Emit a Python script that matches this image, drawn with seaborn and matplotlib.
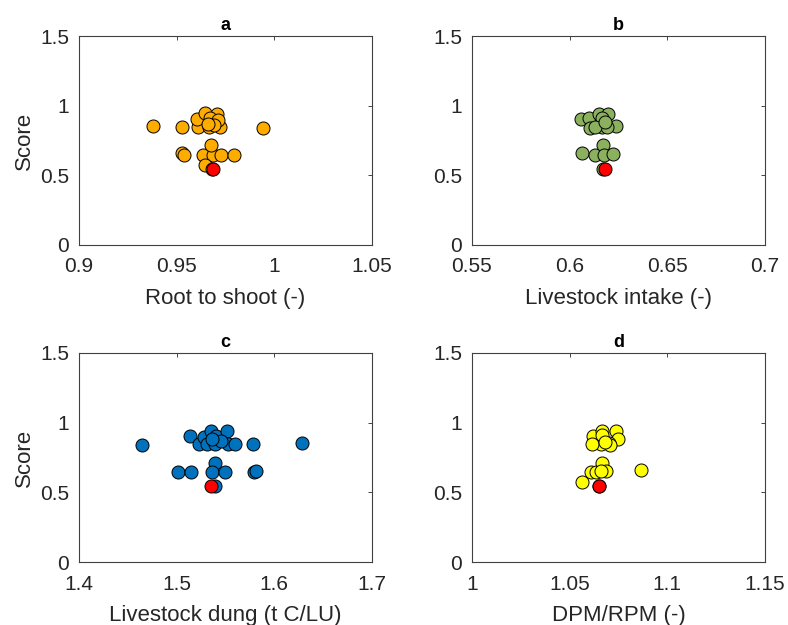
import matplotlib
matplotlib.use("Agg")
import matplotlib.pyplot as plt
import seaborn as sns
import pandas as pd
from matplotlib.ticker import FuncFormatter

sns.set_theme(style="white")
plt.rcParams['font.family'] = ['Liberation Sans', 'DejaVu Sans']

# ---- data ----
root_x = [0.9379, 0.9527, 0.9608, 0.9667, 0.9722, 0.9944, 0.9602, 0.9645, 0.9705, 0.9671,
          0.9713, 0.9690, 0.9660, 0.9526, 0.9540, 0.9637, 0.9688, 0.9727, 0.9795, 0.9674,
          0.9645, 0.9680]
root_y = [0.854, 0.849, 0.849, 0.849, 0.845, 0.840, 0.902, 0.945, 0.940, 0.910,
          0.900, 0.860, 0.870, 0.658, 0.648, 0.646, 0.646, 0.646, 0.646, 0.716,
          0.577, 0.545]
root_ref = (0.9688, 0.543)

intake_x = [0.6060, 0.6100, 0.6106, 0.6152, 0.6195, 0.6166, 0.6238, 0.6163, 0.6192, 0.6132,
            0.6180, 0.6063, 0.6132, 0.6170, 0.6178, 0.6220, 0.6170]
intake_y = [0.902, 0.909, 0.838, 0.940, 0.940, 0.909, 0.854, 0.845, 0.850, 0.850,
            0.880, 0.658, 0.646, 0.716, 0.646, 0.650, 0.545]
intake_ref = (0.6183, 0.543)

dung_x = [1.4642, 1.5137, 1.5017, 1.5143, 1.5229, 1.5280, 1.5348, 1.5400, 1.5512, 1.5307,
          1.5390, 1.5529, 1.5597, 1.5778, 1.6286, 1.5392, 1.5365, 1.5495, 1.5792, 1.5809,
          1.5390, 1.5450, 1.5360]
dung_y = [0.840, 0.904, 0.644, 0.644, 0.845, 0.900, 0.940, 0.905, 0.940, 0.845,
          0.845, 0.845, 0.845, 0.847, 0.856, 0.713, 0.644, 0.644, 0.648, 0.655,
          0.545, 0.870, 0.880]
dung_ref = (1.5355, 0.546)

dpm_x = [1.0563, 1.0610, 1.0635, 1.0666, 1.0687, 1.0867, 1.0620, 1.0666, 1.0738, 1.0747,
         1.0700, 1.0658, 1.0615, 1.0709, 1.0666, 1.0650, 1.0680, 1.0660]
dpm_y = [0.577, 0.644, 0.648, 0.708, 0.655, 0.660, 0.904, 0.940, 0.940, 0.880,
         0.856, 0.845, 0.845, 0.840, 0.910, 0.545, 0.860, 0.650]
dpm_ref = (1.0649, 0.546)

titles = ["a", "b", "c", "d"]
xlabels = ["Root to shoot (-)", "Livestock intake (-)", "Livestock dung (t C/LU)", "DPM/RPM (-)"]
xlims = [(0.9, 1.05), (0.55, 0.7), (1.4, 1.7), (1.0, 1.15)]
xticks = [[0.9, 0.95, 1.0, 1.05], [0.55, 0.6, 0.65, 0.7], [1.4, 1.5, 1.6, 1.7], [1.0, 1.05, 1.1, 1.15]]
yticks = [0, 0.5, 1, 1.5]
colors = ["#FFAC00", "#8BB15E", "#0072BD", "#FFFF00"]
ref_color = "#FF0000"

series = [(root_x, root_y, root_ref), (intake_x, intake_y, intake_ref),
          (dung_x, dung_y, dung_ref), (dpm_x, dpm_y, dpm_ref)]

fig = plt.figure(figsize=(7.88, 6.25), dpi=100)
W, H = 788, 625
boxes = [(79, 36), (472, 36), (79, 353), (472, 353)]
aw, ah = 293, 209

fmt = FuncFormatter(lambda v, p: f"{v:g}")
for i, ((xs, ys, ref), (px, py)) in enumerate(zip(series, boxes)):
    ax = fig.add_axes([px / W, 1 - (py + ah) / H, aw / W, ah / H])
    df = pd.DataFrame({"x": xs, "y": ys})
    sns.scatterplot(data=df, x="x", y="y", ax=ax, color=colors[i], edgecolor="black",
                    linewidth=0.7, s=88, zorder=3, legend=False)
    dref = pd.DataFrame({"x": [ref[0]], "y": [ref[1]]})
    sns.scatterplot(data=dref, x="x", y="y", ax=ax, color=ref_color, edgecolor="black",
                    linewidth=0.7, s=88, zorder=4, legend=False)
    ax.set_xlim(*xlims[i])
    ax.set_ylim(0, 1.5)
    ax.set_xticks(xticks[i])
    ax.set_yticks(yticks)
    ax.xaxis.set_major_formatter(fmt)
    ax.yaxis.set_major_formatter(fmt)
    ax.tick_params(axis="both", direction="in", length=3, width=0.6, top=True, right=True,
                   labelsize=15, colors="#262626")
    ax.tick_params(axis="x", pad=9)
    ax.tick_params(axis="y", pad=7)
    for sp in ax.spines.values():
        sp.set_color("#404040")
        sp.set_linewidth(0.8)
        sp.set_visible(True)
    ax.set_xlabel(xlabels[i], fontsize=16, color="#262626", labelpad=8)
    if i % 2 == 0:
        ax.set_ylabel("Score", fontsize=16, color="#262626", labelpad=4)
    else:
        ax.set_ylabel("")
    ax.set_title(titles[i], fontsize=13, fontweight="bold", color="black", pad=4)

fig.savefig("out.png", dpi=100)
